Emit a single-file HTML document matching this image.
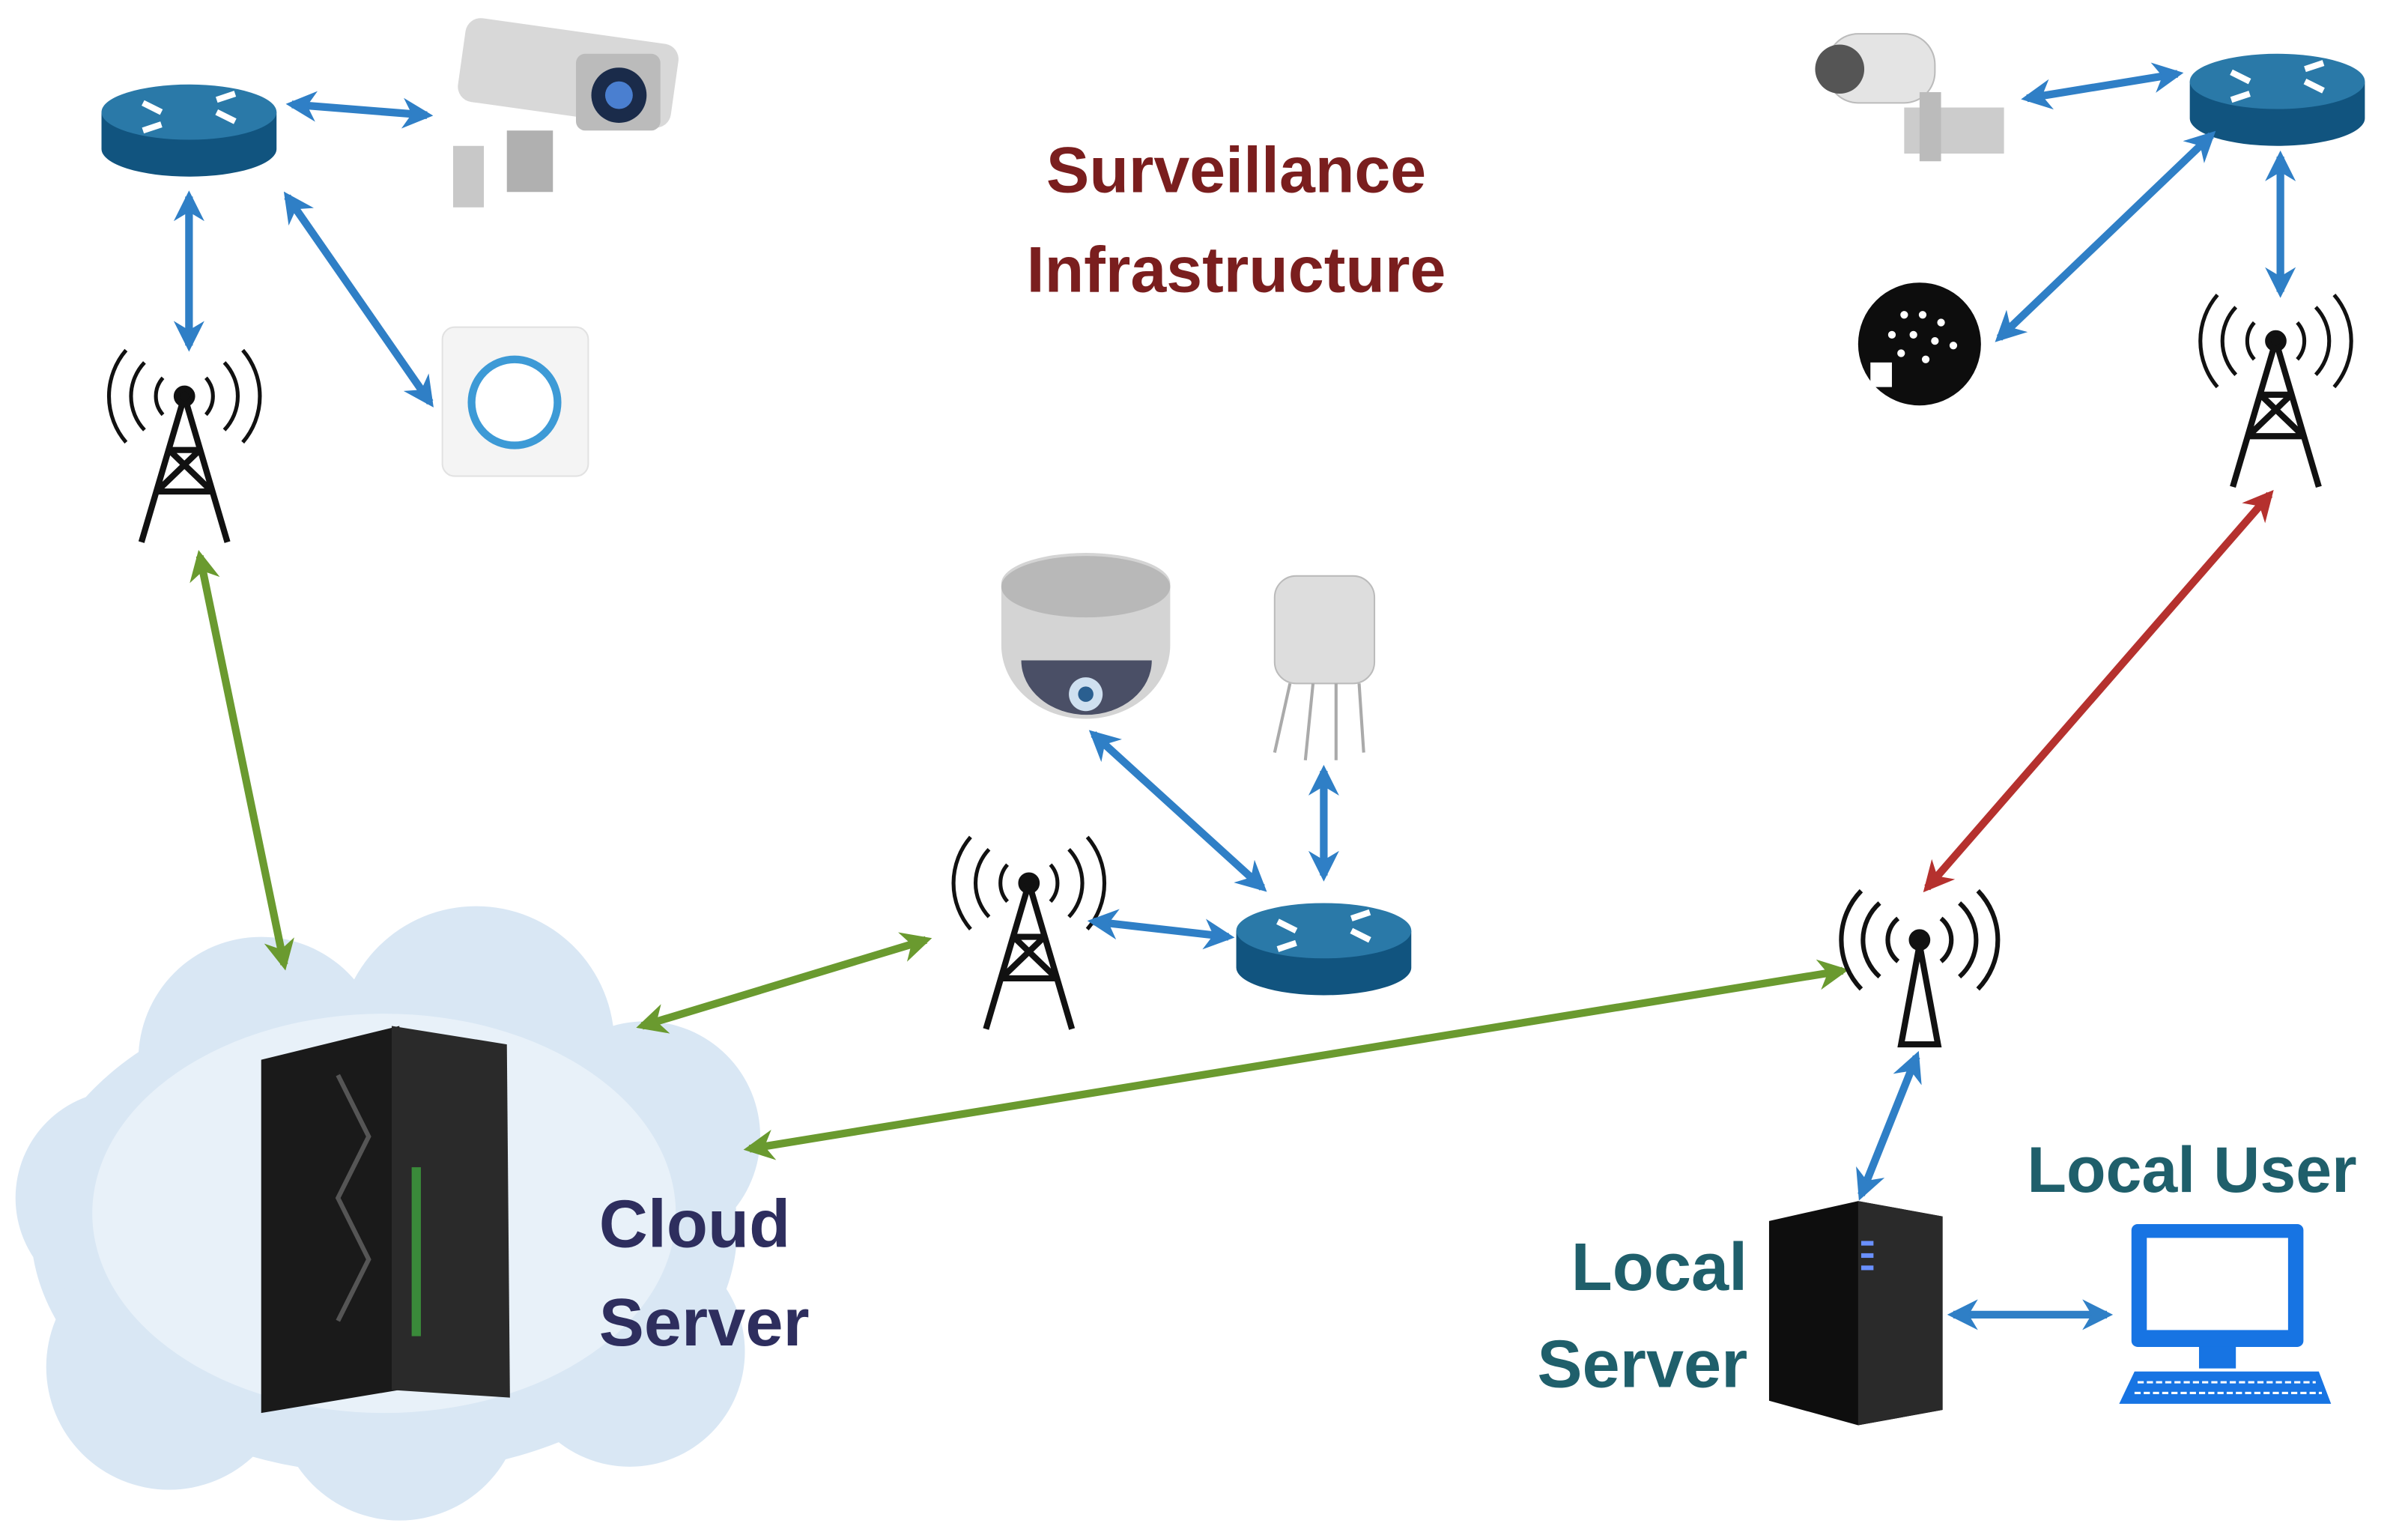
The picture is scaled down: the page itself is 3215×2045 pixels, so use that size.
<!DOCTYPE html>
<html><head><meta charset="utf-8"><style>
html,body{margin:0;padding:0;background:#fff;width:3215px;height:2045px;overflow:hidden}
svg{display:block}
text{font-family:"Liberation Sans",sans-serif;font-weight:bold}
</style></head><body>
<svg width="3215" height="2045" viewBox="0 0 1568 997.5" xmlns="http://www.w3.org/2000/svg">
<defs>
<marker id="ab" viewBox="0 0 10 10" refX="8" refY="5" markerWidth="4" markerHeight="4" orient="auto-start-reverse"><path d="M0,0 L10,5 L0,10 L3,5z" fill="#2f7fc6"/></marker>
<marker id="ag" viewBox="0 0 10 10" refX="8" refY="5" markerWidth="4" markerHeight="4" orient="auto-start-reverse"><path d="M0,0 L10,5 L0,10 L3,5z" fill="#6a9a2f"/></marker>
<marker id="ar" viewBox="0 0 10 10" refX="8" refY="5" markerWidth="4" markerHeight="4" orient="auto-start-reverse"><path d="M0,0 L10,5 L0,10 L3,5z" fill="#b5312e"/></marker>
<g id="router">
<path d="M-57,-12 L-57,12 A57,18 0 0 0 57,12 L57,-12z" fill="#11547f"/>
<ellipse cx="0" cy="-12" rx="57" ry="18" fill="#2a79a8"/>
<path d="M-30,-18 l12,6 M30,-6 l-12,-6 M-18,-4 l-12,4 M18,-20 l12,-4" stroke="#fff" stroke-width="4"/>
</g>
<g id="tower" fill="none" stroke="#111" stroke-width="4">
<path d="M0,0 L-28,95 M0,0 L28,95 M-10,35 L10,35 M-18,62 L18,62 M-10,35 L18,62 M10,35 L-18,62"/>
<circle cx="0" cy="0" r="5" fill="#111"/>
<path d="M-14,-12 a18,18 0 0 0 0,24 M14,-12 a18,18 0 0 1 0,24 M-26,-22 a32,32 0 0 0 0,44 M26,-22 a32,32 0 0 1 0,44 M-38,-30 a46,46 0 0 0 0,60 M38,-30 a46,46 0 0 1 0,60" stroke-width="2.5"/>
</g>
</defs>
<rect width="1568" height="997.5" fill="#fff"/>

<text x="805" y="125" text-anchor="middle" font-size="42" fill="#7a1e1e">Surveillance</text>
<text x="805" y="190" text-anchor="middle" font-size="42" fill="#7a1e1e">Infrastructure</text>

<!-- cloud -->
<g fill="#d9e7f4">
<ellipse cx="250" cy="800" rx="230" ry="160"/>
<circle cx="170" cy="690" r="80"/><circle cx="310" cy="680" r="90"/><circle cx="420" cy="740" r="75"/>
<circle cx="80" cy="780" r="70"/><circle cx="110" cy="890" r="80"/><circle cx="260" cy="910" r="80"/><circle cx="410" cy="880" r="75"/>
</g>
<ellipse cx="250" cy="790" rx="190" ry="130" fill="#e8f1f9"/>
<g>
<path d="M170,690 L260,668 L260,905 L170,920z" fill="#1a1a1a"/>
<path d="M255,668 L330,680 L332,910 L255,905z" fill="#2a2a2a"/>
<rect x="268" y="760" width="6" height="110" fill="#3a8a3a"/>
<path d="M220,700 L240,740 L220,780 L240,820 L220,860" stroke="#555" stroke-width="3" fill="none"/>
</g>
<text x="390" y="812" font-size="44" fill="#2e2e5e">Cloud</text>
<text x="390" y="876" font-size="44" fill="#2e2e5e">Server</text>

<!-- top-left -->
<use href="#router" x="123" y="85"/>
<g>
<rect x="300" y="20" width="140" height="55" rx="10" fill="#d8d8d8" transform="rotate(8 370 47)"/>
<rect x="375" y="35" width="55" height="50" rx="6" fill="#bbb"/>
<circle cx="403" cy="62" r="18" fill="#1a2b4a"/><circle cx="403" cy="62" r="9" fill="#4a7fd0"/>
<rect x="330" y="85" width="30" height="40" fill="#b0b0b0"/>
<rect x="295" y="95" width="20" height="40" fill="#c8c8c8"/>
</g>
<rect x="288" y="213" width="95" height="97" rx="8" fill="#f4f4f4" stroke="#e2e2e2"/>
<circle cx="335" cy="262" r="28" fill="#fff" stroke="#3d9ad6" stroke-width="5"/>
<use href="#tower" x="120" y="258"/>
<g stroke="#2f7fc6" stroke-width="5" marker-start="url(#ab)" marker-end="url(#ab)" fill="none">
<line x1="190" y1="68" x2="278" y2="75"/>
<line x1="123" y1="128" x2="123" y2="225"/>
<line x1="187" y1="128" x2="280" y2="262"/>
</g>
<line x1="130" y1="362" x2="185" y2="628" stroke="#6a9a2f" stroke-width="5" marker-start="url(#ag)" marker-end="url(#ag)"/>

<!-- middle -->
<path d="M652,380 A55,20 0 0 1 762,380 L762,420 A55,48 0 0 1 652,420z" fill="#d4d4d4"/>
<ellipse cx="707" cy="382" rx="55" ry="20" fill="#b8b8b8"/>
<path d="M665,430 A42,35 0 0 0 750,430z" fill="#4a4f66"/>
<circle cx="707" cy="452" r="11" fill="#cfe0f0"/><circle cx="707" cy="452" r="5" fill="#2a5f90"/>
<rect x="830" y="375" width="65" height="70" rx="14" fill="#ddd" stroke="#bbb"/>
<path d="M840,445 L830,490 M855,445 L850,495 M870,445 L870,495 M885,445 L888,490" stroke="#aaa" stroke-width="2"/>
<use href="#tower" x="670" y="575"/>
<use href="#router" x="862" y="618"/>
<g stroke="#2f7fc6" stroke-width="5" marker-start="url(#ab)" marker-end="url(#ab)">
<line x1="712" y1="478" x2="822" y2="578"/>
<line x1="862" y1="502" x2="862" y2="570"/>
<line x1="712" y1="600" x2="800" y2="610"/>
</g>
<line x1="418" y1="668" x2="603" y2="612" stroke="#6a9a2f" stroke-width="5" marker-start="url(#ag)" marker-end="url(#ag)"/>
<line x1="488" y1="748" x2="1200" y2="632" stroke="#6a9a2f" stroke-width="5" marker-start="url(#ag)" marker-end="url(#ag)"/>

<!-- top-right -->
<g>
<rect x="1190" y="22" width="70" height="45" rx="20" fill="#e4e4e4" stroke="#bbb"/>
<circle cx="1198" cy="45" r="16" fill="#555"/>
<rect x="1240" y="70" width="65" height="30" fill="#ccc"/>
<rect x="1250" y="60" width="14" height="45" fill="#bbb"/>
</g>
<use href="#router" x="1483" y="65"/>
<circle cx="1250" cy="224" r="40" fill="#0d0d0d"/>
<g fill="#fff"><circle cx="1240" cy="205" r="2.5"/><circle cx="1252" cy="205" r="2.5"/><circle cx="1264" cy="210" r="2.5"/><circle cx="1232" cy="218" r="2.5"/><circle cx="1246" cy="218" r="2.5"/><circle cx="1260" cy="222" r="2.5"/><circle cx="1272" cy="225" r="2.5"/><circle cx="1238" cy="230" r="2.5"/><circle cx="1254" cy="234" r="2.5"/><rect x="1218" y="236" width="14" height="16"/></g>
<use href="#tower" x="1482" y="222"/>
<g stroke="#2f7fc6" stroke-width="5" marker-start="url(#ab)" marker-end="url(#ab)">
<line x1="1320" y1="64" x2="1418" y2="48"/>
<line x1="1440" y1="88" x2="1302" y2="220"/>
<line x1="1485" y1="102" x2="1485" y2="190"/>
</g>
<line x1="1478" y1="322" x2="1255" y2="578" stroke="#b5312e" stroke-width="5" marker-start="url(#ar)" marker-end="url(#ar)"/>

<!-- bottom-right -->
<g fill="none" stroke="#111" stroke-width="4">
<path d="M1250,615 L1238,680 L1262,680z"/>
<circle cx="1250" cy="612" r="5" fill="#111"/>
<path d="M1236,598 a18,18 0 0 0 0,28 M1264,598 a18,18 0 0 1 0,28 M1224,588 a32,32 0 0 0 0,48 M1276,588 a32,32 0 0 1 0,48 M1212,580 a46,46 0 0 0 0,64 M1288,580 a46,46 0 0 1 0,64" stroke-width="3"/>
</g>
<line x1="1248" y1="688" x2="1212" y2="778" stroke="#2f7fc6" stroke-width="5" marker-start="url(#ab)" marker-end="url(#ab)"/>
<path d="M1152,795 L1210,782 L1265,792 L1265,918 L1210,928 L1152,912z" fill="#0e0e0e"/>
<path d="M1210,782 L1265,792 L1265,918 L1210,928z" fill="#2a2a2a"/>
<g fill="#6a90ff"><rect x="1212" y="808" width="8" height="3"/><rect x="1212" y="816" width="8" height="3"/><rect x="1212" y="824" width="8" height="3"/></g>
<text x="1138" y="840" text-anchor="end" font-size="44" fill="#1f5f6b">Local</text>
<text x="1138" y="903" text-anchor="end" font-size="44" fill="#1f5f6b">Server</text>
<text x="1320" y="776" font-size="42" fill="#1f5f6b">Local User</text>
<line x1="1272" y1="856" x2="1372" y2="856" stroke="#2f7fc6" stroke-width="5" marker-start="url(#ab)" marker-end="url(#ab)"/>
<rect x="1388" y="797" width="112" height="80" rx="4" fill="#1774e3"/>
<rect x="1398" y="806" width="92" height="60" fill="#fff"/>
<rect x="1432" y="877" width="24" height="14" fill="#1774e3"/>
<path d="M1390,893 L1510,893 L1518,914 L1380,914z" fill="#1774e3"/>
<path d="M1392,900 H1508 M1390,907 H1512" stroke="#fff" stroke-width="1.5" stroke-dasharray="4 2"/>
</svg>
</body></html>
